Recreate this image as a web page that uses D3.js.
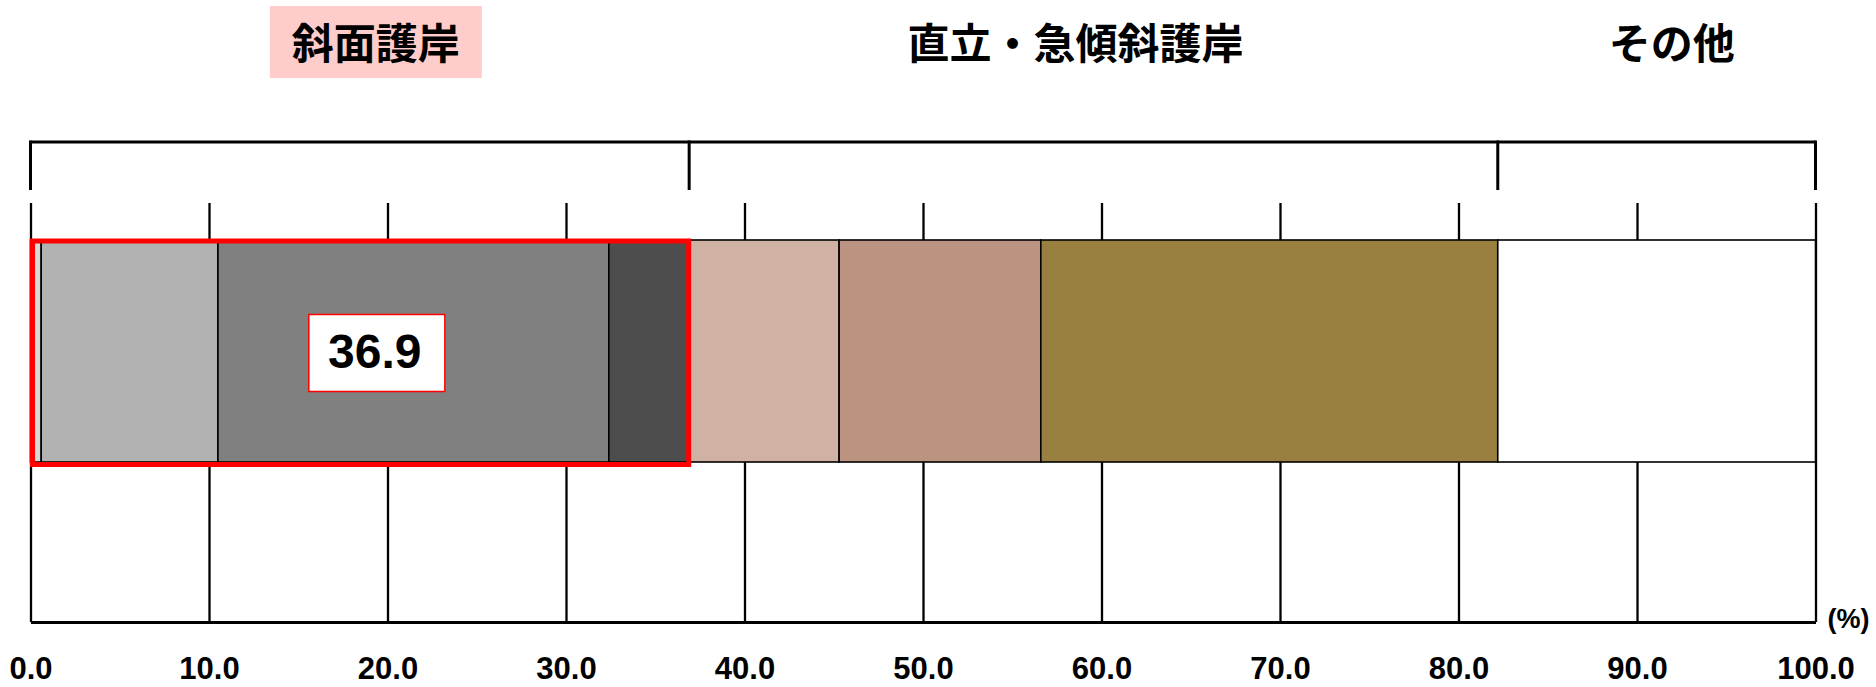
<!DOCTYPE html>
<html>
<head>
<meta charset="utf-8">
<script src="https://cdn.jsdelivr.net/npm/d3@7"></script>
<style>
  html, body { margin: 0; padding: 0; background: #fff; }
  svg { display: block; }
</style>
</head>
<body>
<svg id="chart"></svg>
<script>
// Data
const categories = ["斜面護岸", "直立・急傾斜護岸", "その他"];
const segmentGroup = [0, 0, 0, 0, 1, 1, 1, 2];
const segmentValues = [0.6, 9.9, 21.9, 4.5, 8.4, 11.3, 25.6, 17.8];
const tickValues = [0, 10, 20, 30, 40, 50, 60, 70, 80, 90, 100];
const highlightCategory = 0;

// Styles
const segmentColors = ["#d9d9d9", "#b2b2b2", "#808080", "#4d4d4d",
                       "#cfb2a3", "#bc9280", "#998040", "#ffffff"];
const labelNudge = [16, -18, 15];   // hand-placed like the original
const numFont = "'Liberation Sans', Arial, sans-serif";
const cjkFont = "'Noto Sans CJK JP', 'Noto Sans CJK SC', sans-serif";

const width = 1876, height = 687;
const bracketTop = 142, bracketBottom = 190;
const gridTop = 203, barTop = 240, barBottom = 462, axisY = 622;

const svg = d3.select("#chart").attr("width", width).attr("height", height);

const x = d3.scaleLinear().domain([0, 100]).range([30.5, 1815.5]);

// stack segments
let acc = 0;
const segs = segmentValues.map((v, i) => {
  const s = {x0: acc, x1: acc + v, group: segmentGroup[i], color: segmentColors[i]};
  acc += v;
  return s;
});

// group boundaries
const groups = categories.map((c, gi) => {
  const g = segs.filter((d) => d.group === gi);
  return {name: c, x0: d3.min(g, (d) => d.x0), x1: d3.max(g, (d) => d.x1)};
});
const bounds = [groups[0].x0].concat(groups.map((g) => g.x1));

// axis + gridlines (behind bars)
const axis = svg.append("g")
  .attr("transform", `translate(0, ${axisY})`)
  .call(d3.axisBottom(x)
    .tickValues(tickValues)
    .tickSize(-(axisY - gridTop))
    .tickSizeOuter(0)
    .tickPadding(35)
    .tickFormat(d3.format(".1f")));
axis.select(".domain").attr("stroke", "#000").attr("stroke-width", 3);
axis.selectAll(".tick line").attr("stroke", "#000").attr("stroke-width", 2.3);
axis.selectAll(".tick text")
  .attr("fill", "#000")
  .style("font-family", numFont)
  .style("font-weight", "bold")
  .style("font-size", "31px");

svg.append("text")
  .attr("x", x(100) + 33)
  .attr("y", axisY - 3)
  .attr("text-anchor", "middle")
  .attr("dominant-baseline", "central")
  .style("font-family", numFont)
  .style("font-weight", "bold")
  .style("font-size", "27px")
  .text("(%)");

// bar segments
svg.append("g").selectAll("rect")
  .data(segs)
  .enter()
  .append("rect")
  .attr("x", (d) => x(d.x0))
  .attr("y", barTop)
  .attr("width", (d) => x(d.x1) - x(d.x0))
  .attr("height", barBottom - barTop)
  .attr("fill", (d) => d.color)
  .attr("stroke", "#000")
  .attr("stroke-width", 1.6);

// bracket on top
svg.append("line")
  .attr("x1", x(bounds[0])).attr("x2", x(bounds[bounds.length - 1]))
  .attr("y1", bracketTop).attr("y2", bracketTop)
  .attr("stroke", "#000").attr("stroke-width", 3);
svg.append("g").selectAll("line")
  .data(bounds)
  .enter()
  .append("line")
  .attr("x1", (d) => x(d)).attr("x2", (d) => x(d))
  .attr("y1", bracketTop - 1.5).attr("y2", bracketBottom)
  .attr("stroke", "#000").attr("stroke-width", 3);

// category labels
const hl = groups[highlightCategory];
svg.append("rect")
  .attr("x", (x(hl.x0) + x(hl.x1)) / 2 + labelNudge[highlightCategory] - 106)
  .attr("y", 6)
  .attr("width", 212)
  .attr("height", 72)
  .attr("fill", "#ffcccc");

svg.append("g").selectAll("text")
  .data(groups)
  .enter()
  .append("text")
  .attr("x", (d, i) => (x(d.x0) + x(d.x1)) / 2 + labelNudge[i])
  .attr("y", 40)
  .attr("text-anchor", "middle")
  .attr("dominant-baseline", "central")
  .style("font-family", cjkFont)
  .style("font-weight", "bold")
  .style("font-size", "42px")
  .text((d) => d.name);

// highlight frame around the first group
svg.append("rect")
  .attr("x", x(hl.x0) + 2)
  .attr("y", barTop + 1)
  .attr("width", x(hl.x1) - x(hl.x0) - 2.5)
  .attr("height", barBottom - barTop + 1.5)
  .attr("fill", "none")
  .attr("stroke", "#ff0000")
  .attr("stroke-width", 5);

// value box
const boxCx = (x(hl.x0) + x(hl.x1)) / 2 + 17;
const boxCy = (barTop + barBottom) / 2 + 2;
svg.append("rect")
  .attr("x", boxCx - 68)
  .attr("y", boxCy - 38.5)
  .attr("width", 136)
  .attr("height", 77)
  .attr("fill", "#fff")
  .attr("stroke", "#ff0000")
  .attr("stroke-width", 1.5);
svg.append("text")
  .attr("x", boxCx - 2)
  .attr("y", boxCy - 2)
  .attr("text-anchor", "middle")
  .attr("dominant-baseline", "central")
  .style("font-family", numFont)
  .style("font-weight", "bold")
  .style("font-size", "48px")
  .text(d3.format(".1f")(hl.x1 - hl.x0));
</script>
</body>
</html>
